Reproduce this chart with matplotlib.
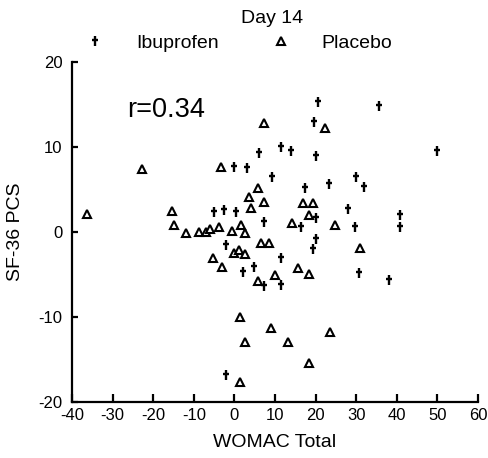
import matplotlib.pyplot as plt
from matplotlib.path import Path

# Day 14: change in WOMAC total vs change in SF-36 PCS
ibu_x = [20.5, 35.5, 19.5, 49.8, 6.0, 11.4, 14.0, 20.0, -0.2, 3.2, 9.2, 17.3,
         23.2, 29.9, 31.9, -4.9, -2.5, 0.5, 7.2, 16.3, 20.2, 27.9, 29.6, 40.7,
         40.7, -2.0, 20.0, 19.3, 11.4, 4.9, 2.0, 11.5, 7.2, 30.6, 38.0, -2.0]
ibu_y = [15.3, 14.8, 13.0, 9.5, 9.3, 10.0, 9.5, 8.9, 7.6, 7.5, 6.5, 5.2,
         5.6, 6.5, 5.3, 2.4, 2.6, 2.4, 1.2, 0.6, 1.6, 2.7, 0.6, 2.0,
         0.6, -1.5, -0.8, -2.0, -3.1, -4.1, -4.7, -6.2, -6.4, -4.8, -5.6, -16.8]

pla_x = [7.2, 22.2, -22.7, -36.3, -3.2, -15.3, -14.8, -11.9, -8.6, -6.9, -6.0,
         -3.7, -0.5, 1.7, 2.5, 4.2, 3.7, 5.9, 7.4, 6.5, 8.6, 0.0, 1.2, 2.5,
         -5.2, -3.1, 5.7, 10.0, 16.8, 19.3, 18.5, 14.3, 24.9, 30.9, 15.7, 18.5,
         1.5, 9.1, 2.5, 13.1, 23.5, 18.3, 1.5]
pla_y = [12.8, 12.2, 7.4, 2.1, 7.6, 2.5, 0.8, -0.1, 0.0, 0.0, 0.3,
         0.6, 0.1, 0.8, -0.1, 2.8, 4.1, 5.2, 3.5, -1.3, -1.3, -2.5, -2.1, -2.6,
         -3.1, -4.1, -5.8, -5.1, 3.4, 3.4, 2.0, 1.1, 0.8, -1.9, -4.2, -5.0,
         -10.0, -11.3, -12.9, -12.9, -11.8, -15.4, -17.6]

r_text = 'r=0.34'

plt.rcParams['font.family'] = ['Liberation Sans', 'DejaVu Sans']
plt.rcParams['axes.unicode_minus'] = False

# dagger-like cross: tall stem, short bar
dagger = Path([(0, -1), (0, 1), (-0.55, 0.25), (0.55, 0.25)],
              [Path.MOVETO, Path.LINETO, Path.MOVETO, Path.LINETO])

fig = plt.figure(figsize=(4.88, 4.58), dpi=100)
ax = fig.add_axes([0.1475, 0.1223, 0.832, 0.7423])

ax.plot(ibu_x, ibu_y, linestyle='none', marker=dagger, markersize=7.5,
        markeredgewidth=1.7, color='black', label='Ibuprofen')
ax.plot(pla_x, pla_y, linestyle='none', marker='^', markersize=6,
        markeredgewidth=1.5, markerfacecolor='white', markeredgecolor='black',
        label='Placebo')

ax.set_xlim(-40, 60)
ax.set_ylim(-20, 20)
ax.set_xticks(range(-40, 61, 10))
ax.set_yticks([-20, -10, 0, 10, 20])

for s in ['top', 'right']:
    ax.spines[s].set_visible(False)
for s in ['left', 'bottom']:
    ax.spines[s].set_linewidth(1.6)

ax.tick_params(axis='both', direction='in', labelsize=12, width=1.6)
ax.tick_params(axis='x', length=6, pad=4)
ax.tick_params(axis='y', length=4, pad=7)

ax.set_xlabel('WOMAC Total', fontsize=14, labelpad=8)
ax.set_ylabel('SF-36 PCS', fontsize=14, labelpad=10)

ax.text(-26.5, 14.3, r_text, fontsize=19.5, va='center', ha='left')

fig.text(0.557, 0.96, 'Day 14', fontsize=14, ha='center', va='center')

leg = ax.legend(loc='lower left', bbox_to_anchor=(0.0, 1.0), ncol=2,
                frameon=False, fontsize=14, handlelength=1.4,
                handletextpad=1.4, columnspacing=2.5, borderaxespad=0.1)

fig.savefig('out.png', dpi=100, facecolor='white')
